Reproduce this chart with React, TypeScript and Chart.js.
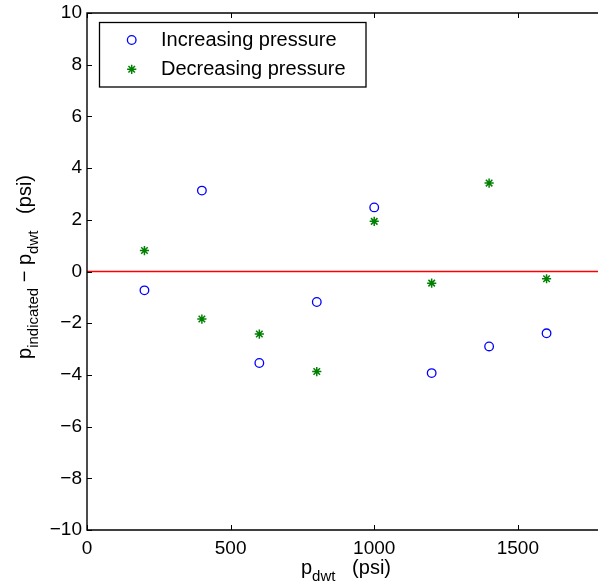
import React, { useEffect, useRef } from 'react';
import { Chart, registerables } from 'chart.js';

Chart.register(...registerables);

// ---- data ----
const pressures = [200, 400, 600, 800, 1000, 1200, 1400, 1600];
const increasingErr = [-0.73, 3.13, -3.54, -1.18, 2.48, -3.93, -2.9, -2.39];
const decreasingErr = [0.81, -1.84, -2.42, -3.87, 1.94, -0.45, 3.42, -0.28];
const zeroLineX = [0, 1800];
const zeroLineY = [0, 0];
const xTicks = [0, 500, 1000, 1500];
const yTicks = [-10, -8, -6, -4, -2, 0, 2, 4, 6, 8, 10];
const legendLabels = ['Increasing pressure', 'Decreasing pressure'];
const xLimits = [0, 1800];
const yLimits = [-10, 10];

const FONT = '"Liberation Sans", Arial, Helvetica, sans-serif';
const BLUE = '#0000ff';
const GREEN = '#008000';
const RED = '#ff0000';

type Piece = { t: string; sub?: boolean };

const fmt = (v: number) => String(v).replace('-', '\u2212');

function drawRich(ctx: CanvasRenderingContext2D, pieces: Piece[], main: number, sub: number, shift: number) {
  const widths: number[] = [];
  let total = 0;
  pieces.forEach((p) => {
    ctx.font = `${p.sub ? sub : main}px ${FONT}`;
    const w = ctx.measureText(p.t).width;
    widths.push(w);
    total += w;
  });
  let x = -total / 2;
  ctx.textAlign = 'left';
  ctx.textBaseline = 'alphabetic';
  pieces.forEach((p, i) => {
    ctx.font = `${p.sub ? sub : main}px ${FONT}`;
    ctx.fillText(p.t, x, p.sub ? shift : 0);
    x += widths[i];
  });
}

function drawStar(ctx: CanvasRenderingContext2D, x: number, y: number, r: number) {
  ctx.beginPath();
  for (let k = 0; k < 4; k++) {
    const a = (k * Math.PI) / 4;
    ctx.moveTo(x - r * Math.cos(a), y - r * Math.sin(a));
    ctx.lineTo(x + r * Math.cos(a), y + r * Math.sin(a));
  }
  ctx.stroke();
}

const decorPlugin = {
  id: 'decor',
  afterDraw(chart: any) {
    const { ctx, chartArea: a, scales } = chart;
    ctx.save();
    // frame
    ctx.strokeStyle = '#000';
    ctx.lineWidth = 1.4;
    ctx.beginPath();
    ctx.moveTo(a.right + 30, a.top);
    ctx.lineTo(a.left, a.top);
    ctx.lineTo(a.left, a.bottom);
    ctx.lineTo(a.right + 30, a.bottom);
    ctx.stroke();
    ctx.lineWidth = 1;
    ctx.beginPath();
    xTicks.forEach((v) => {
      const px = Math.round(scales.x.getPixelForValue(v)) + 0.5;
      ctx.moveTo(px, a.bottom);
      ctx.lineTo(px, a.bottom - 5);
      ctx.moveTo(px, a.top);
      ctx.lineTo(px, a.top + 5);
    });
    yTicks.forEach((v) => {
      const py = Math.round(scales.y.getPixelForValue(v)) + 0.5;
      ctx.moveTo(a.left, py);
      ctx.lineTo(a.left + 5, py);
      ctx.moveTo(a.right, py);
      ctx.lineTo(a.right - 5, py);
    });
    ctx.stroke();

    // legend
    const lx = 99.5, ly = 22.5, lw = 266.5, lh = 64.5;
    ctx.fillStyle = '#fff';
    ctx.fillRect(lx, ly, lw, lh);
    ctx.strokeStyle = '#000';
    ctx.lineWidth = 1.3;
    ctx.strokeRect(lx, ly, lw, lh);
    ctx.lineWidth = 1.3;
    ctx.strokeStyle = BLUE;
    ctx.beginPath();
    ctx.arc(131.7, 40, 4.3, 0, Math.PI * 2);
    ctx.stroke();
    ctx.strokeStyle = GREEN;
    ctx.lineWidth = 1.5;
    drawStar(ctx, 131.7, 69.3, 4.6);
    ctx.fillStyle = '#000';
    ctx.font = `20px ${FONT}`;
    ctx.textAlign = 'left';
    ctx.textBaseline = 'middle';
    ctx.fillText(legendLabels[0], 161, 40);
    ctx.fillText(legendLabels[1], 161, 69.5);

    // x title
    ctx.save();
    ctx.translate(346, 574);
    drawRich(ctx, [{ t: 'p' }, { t: 'dwt', sub: true }, { t: '   (psi)' }], 20, 15, 7);
    ctx.restore();

    // y title
    ctx.save();
    ctx.translate(31, 267);
    ctx.rotate(-Math.PI / 2);
    drawRich(
      ctx,
      [{ t: 'p' }, { t: 'indicated', sub: true }, { t: ' \u2212 p' }, { t: 'dwt', sub: true }, { t: '   (psi)' }],
      20,
      15,
      7
    );
    ctx.restore();

    ctx.restore();
  },
};

export default function App() {
  const ref = useRef<HTMLCanvasElement | null>(null);

  useEffect(() => {
    if (!ref.current) return;
    const chart = new Chart(ref.current, {
      type: 'scatter',
      data: {
        datasets: [
          {
            type: 'line',
            data: zeroLineX.map((x, i) => ({ x, y: zeroLineY[i] })),
            borderColor: RED,
            borderWidth: 1.3,
            pointRadius: 0,
            fill: false,
          } as any,
          {
            data: pressures.map((x, i) => ({ x, y: increasingErr[i] })),
            pointStyle: 'circle',
            pointRadius: 4.3,
            borderColor: BLUE,
            backgroundColor: 'rgba(0,0,0,0)',
            pointBorderWidth: 1.3,
          },
          {
            data: pressures.map((x, i) => ({ x, y: decreasingErr[i] })),
            pointStyle: 'star',
            pointRadius: 4.6,
            borderColor: GREEN,
            backgroundColor: GREEN,
            pointBorderWidth: 1.5,
          },
        ],
      },
      options: {
        animation: false,
        responsive: false,
        devicePixelRatio: 1,
        layout: { padding: { top: 13, right: 16, left: 0, bottom: 0 } },
        plugins: { legend: { display: false }, tooltip: { enabled: false } },
        scales: {
          x: {
            type: 'linear',
            min: xLimits[0],
            max: xLimits[1],
            grid: { display: false, drawTicks: false, tickLength: 0 },
            border: { display: false },
            ticks: {
              font: { family: FONT, size: 19 },
              color: '#000',
              padding: 7,
              autoSkip: false,
              maxRotation: 0,
              callback: (v: any) => fmt(Number(v)),
            },
            afterBuildTicks: (s: any) => {
              s.ticks = xTicks.map((v) => ({ value: v }));
            },
            afterFit: (s: any) => {
              s.height = 56;
              s.paddingLeft = 0;
              s.paddingRight = 0;
            },
          },
          y: {
            type: 'linear',
            min: yLimits[0],
            max: yLimits[1],
            grid: { display: false, drawTicks: false, tickLength: 0 },
            border: { display: false },
            ticks: {
              font: { family: FONT, size: 19 },
              color: '#000',
              padding: 5,
              autoSkip: false,
              callback: (v: any) => fmt(Number(v)),
            },
            afterBuildTicks: (s: any) => {
              s.ticks = yTicks.map((v) => ({ value: v }));
            },
            afterFit: (s: any) => {
              s.width = 87;
              s.paddingTop = 0;
              s.paddingBottom = 0;
            },
          },
        },
      },
      plugins: [decorPlugin],
    });
    return () => chart.destroy();
  }, []);

  return (
    <div
      style={{
        position: 'fixed',
        left: 0,
        top: 0,
        width: 598,
        height: 586,
        overflow: 'hidden',
        background: '#fff',
      }}
    >
      <canvas ref={ref} width={620} height={586} style={{ display: 'block' }} />
    </div>
  );
}
